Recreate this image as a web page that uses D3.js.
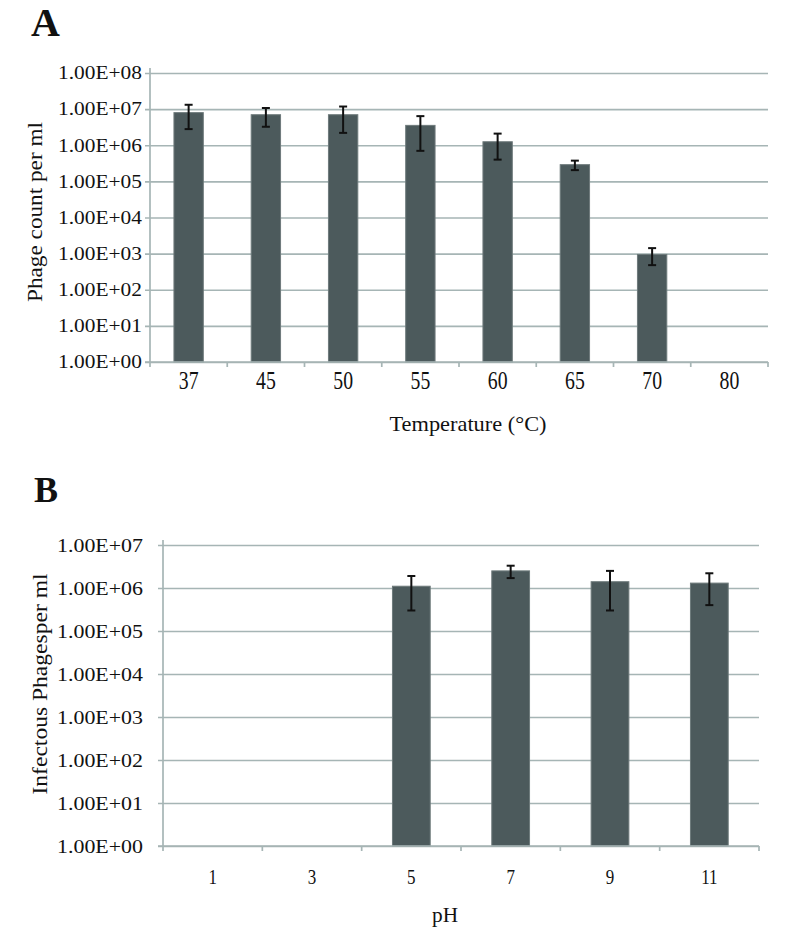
<!DOCTYPE html>
<html>
<head>
<meta charset="utf-8">
<script src="https://cdn.jsdelivr.net/npm/d3@7"></script>
<style>
  body { margin: 0; background: #fff; }
  text { font-family: "Liberation Serif", "Times New Roman", serif; fill: #111; }
</style>
</head>
<body>
<div id="chart"></div>
<script>
// Panel A: temperature
const tempCats = ["37", "45", "50", "55", "60", "65", "70", "80"];
const tempCounts = [8.0e6, 7.0e6, 7.0e6, 3.55e6, 1.25e6, 2.9e5, 950, null];
const tempErr = [5.2e6, 3.75e6, 4.8e6, 2.85e6, 0.85e6, 0.85e5, 470, null];
const tempTicks = [1e0, 1e1, 1e2, 1e3, 1e4, 1e5, 1e6, 1e7, 1e8];
const tempTickLabels = ["1.00E+00", "1.00E+01", "1.00E+02", "1.00E+03", "1.00E+04",
                        "1.00E+05", "1.00E+06", "1.00E+07", "1.00E+08"];

// Panel B: pH
const phCats = ["1", "3", "5", "7", "9", "11"];
const phCounts = [null, null, 1.1e6, 2.5e6, 1.4e6, 1.3e6];
const phErr = [null, null, 0.8e6, 0.8e6, 1.1e6, 0.9e6];
const phTicks = [1e0, 1e1, 1e2, 1e3, 1e4, 1e5, 1e6, 1e7];
const phTickLabels = ["1.00E+00", "1.00E+01", "1.00E+02", "1.00E+03",
                      "1.00E+04", "1.00E+05", "1.00E+06", "1.00E+07"];

const svg = d3.select("#chart")
    .append("svg")
    .attr("width", 794)
    .attr("height", 937);

const barFill = "#4c5a5c",
      gridColor = "#a6b5b5";

function panel(opt) {
    const g = svg.append("g");

    const x = d3.scaleBand()
        .domain(opt.cats)
        .range([opt.left, opt.right])
        .paddingInner(0.62)
        .paddingOuter(0.31);

    const y = d3.scaleLog()
        .domain([opt.ticks[0], opt.ticks[opt.ticks.length - 1]])
        .range([opt.bottom, opt.top]);

    // gridlines + y labels
    const yAxis = g.append("g")
        .attr("transform", `translate(${opt.left},0)`)
        .call(d3.axisLeft(y)
            .tickValues(opt.ticks)
            .tickFormat((d, i) => opt.tickLabels[i])
            .tickSize(-(opt.right - opt.left))
            .tickPadding(opt.yPad));
    yAxis.select(".domain").remove();
    yAxis.selectAll(".tick line")
        .attr("x1", -5)
        .attr("stroke", gridColor)
        .attr("stroke-width", 1.7);
    yAxis.selectAll(".tick text")
        .attr("font-size", opt.yFont)
        .attr("textLength", opt.yLabelW)
        .attr("lengthAdjust", "spacingAndGlyphs")
        .style("font-family", "Liberation Serif");

    // vertical axis line
    g.append("line")
        .attr("x1", opt.left).attr("x2", opt.left)
        .attr("y1", opt.top - 5).attr("y2", opt.bottom)
        .attr("stroke", gridColor)
        .attr("stroke-width", 1.7);

    // bars
    const rows = opt.cats.map((c, i) => ({ cat: c, v: opt.values[i], e: opt.err[i] }))
        .filter(d => d.v != null);

    g.selectAll("rect.bar")
        .data(rows)
        .join("rect")
        .attr("class", "bar")
        .attr("x", d => x(d.cat))
        .attr("y", d => y(d.v))
        .attr("width", x.bandwidth())
        .attr("height", d => y(opt.ticks[0]) - y(d.v))
        .attr("fill", barFill)
        .attr("stroke", "#6e7a7b")
        .attr("stroke-width", 1);

    // bottom axis line with tick marks between categories
    g.append("line")
        .attr("x1", opt.left - 5).attr("x2", opt.right)
        .attr("y1", opt.bottom).attr("y2", opt.bottom)
        .attr("stroke", gridColor)
        .attr("stroke-width", 1.7);
    g.selectAll("line.xtick")
        .data(d3.range(opt.cats.length + 1))
        .join("line")
        .attr("class", "xtick")
        .attr("x1", i => opt.left + i * x.step())
        .attr("x2", i => opt.left + i * x.step())
        .attr("y1", opt.bottom)
        .attr("y2", opt.bottom + 5)
        .attr("stroke", gridColor)
        .attr("stroke-width", 1.7);

    // x labels
    g.selectAll("text.xlab")
        .data(opt.cats)
        .join("text")
        .attr("class", "xlab")
        .attr("text-anchor", "middle")
        .attr("font-size", opt.xFont)
        .attr("transform", d => `translate(${x(d) + x.bandwidth() / 2},${opt.xLabelY}) scale(${opt.xScale},1)`)
        .text(d => d);

    // error bars
    const eb = g.selectAll("g.err")
        .data(rows)
        .join("g")
        .attr("class", "err")
        .attr("transform", d => `translate(${x(d.cat) + x.bandwidth() / 2},0)`);
    eb.append("line")
        .attr("y1", d => y(d.v + d.e))
        .attr("y2", d => y(d.v - d.e))
        .attr("stroke", "#111").attr("stroke-width", 2);
    eb.append("line")
        .attr("x1", -4).attr("x2", 4)
        .attr("y1", d => y(d.v + d.e)).attr("y2", d => y(d.v + d.e))
        .attr("stroke", "#111").attr("stroke-width", 2);
    eb.append("line")
        .attr("x1", -4).attr("x2", 4)
        .attr("y1", d => y(d.v - d.e)).attr("y2", d => y(d.v - d.e))
        .attr("stroke", "#111").attr("stroke-width", 2);

    // axis titles
    g.append("text")
        .attr("x", opt.xTitleX)
        .attr("y", opt.xTitleY)
        .attr("text-anchor", "middle")
        .attr("font-size", 21)
        .attr("textLength", opt.xTitleW)
        .attr("lengthAdjust", "spacingAndGlyphs")
        .text(opt.xTitle);

    g.append("text")
        .attr("transform", `translate(${opt.yTitleX},${opt.yTitleY}) rotate(-90)`)
        .attr("text-anchor", "middle")
        .attr("font-size", 21)
        .attr("textLength", opt.yTitleW)
        .attr("lengthAdjust", "spacingAndGlyphs")
        .text(opt.yTitle);

    // panel letter
    g.append("text")
        .attr("x", opt.letterX)
        .attr("y", opt.letterY)
        .attr("font-size", opt.letterSize)
        .attr("font-weight", "bold")
        .text(opt.letter);
}

panel({
    cats: tempCats, values: tempCounts, err: tempErr,
    ticks: tempTicks, tickLabels: tempTickLabels,
    left: 150, right: 768, top: 73, bottom: 362,
    yPad: 8, yFont: 18, yLabelW: 84,
    xFont: 26, xScale: 0.76, xLabelY: 389,
    xTitle: "Temperature (°C)", xTitleX: 468, xTitleY: 431, xTitleW: 157,
    yTitle: "Phage count per ml", yTitleX: 42, yTitleY: 212, yTitleW: 180,
    letter: "A", letterX: 31, letterY: 36, letterSize: 40
});

panel({
    cats: phCats, values: phCounts, err: phErr,
    ticks: phTicks, tickLabels: phTickLabels,
    left: 163, right: 759, top: 545, bottom: 846,
    yPad: 20, yFont: 19, yLabelW: 86,
    xFont: 20, xScale: 0.85, xLabelY: 884,
    xTitle: "pH", xTitleX: 445, xTitleY: 922, xTitleW: 26,
    yTitle: "Infectous Phagesper ml", yTitleX: 47, yTitleY: 684, yTitleW: 221,
    letter: "B", letterX: 34, letterY: 502, letterSize: 36
});
</script>
</body>
</html>
